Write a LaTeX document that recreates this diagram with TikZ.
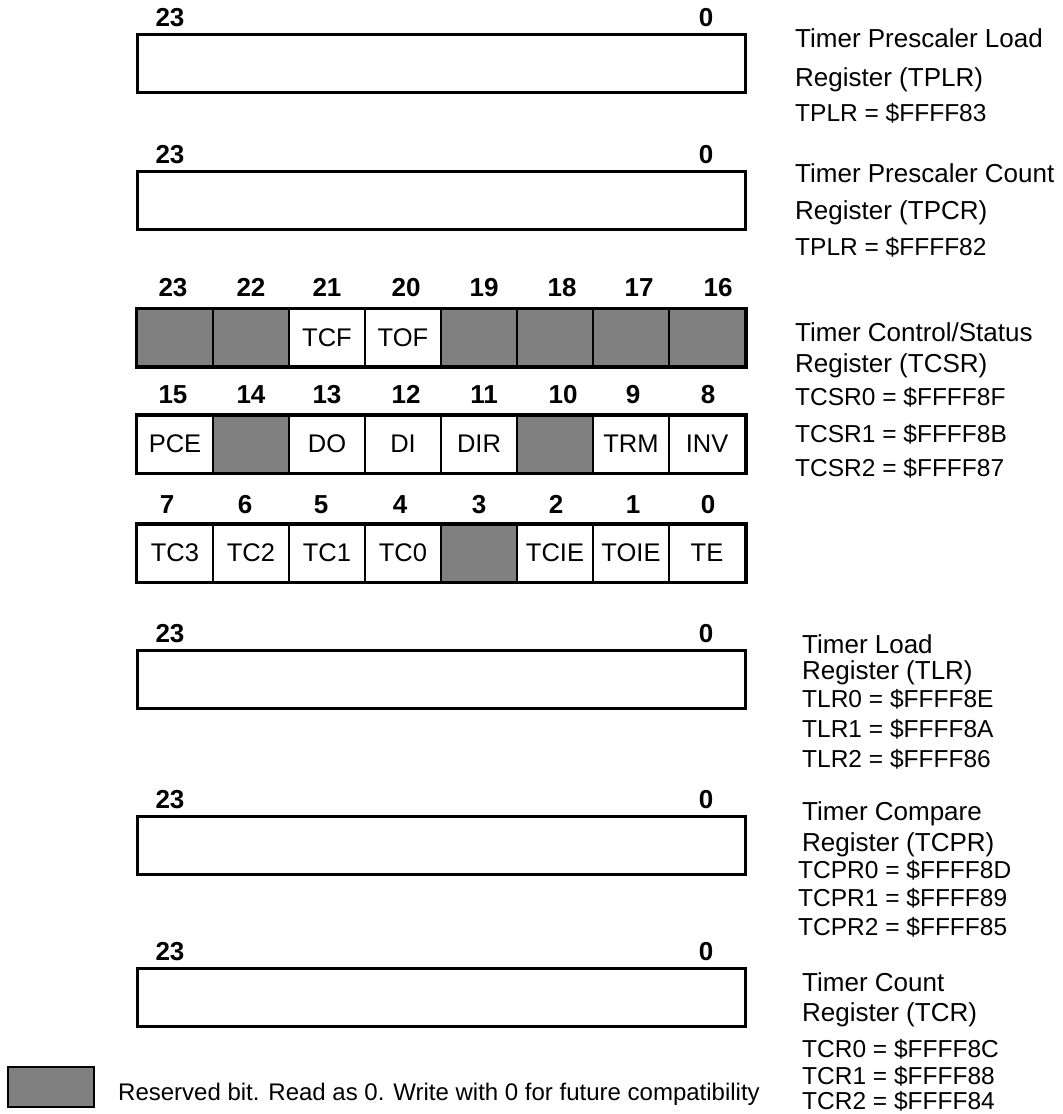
\documentclass[tikz,border=0pt]{standalone}
\usepackage{fontspec}
\setmainfont{Liberation Sans}
\definecolor{resv}{HTML}{808080}
\newcommand\fttl{\fontsize{26}{30}\selectfont}
\newcommand\ftadr{\fontsize{24.5}{28}\selectfont}
\newcommand\ftcell{\fontsize{25.5}{28}\selectfont}
\newcommand\ftbit{\fontsize{26}{30}\selectfont\bfseries}
\begin{document}
\begin{tikzpicture}[x=1pt,y=-1pt,
  bitnum/.style={font=\ftbit, anchor=base, inner sep=0pt},
  cell/.style={draw, line width=2pt, minimum width=76pt, minimum height=57pt, inner sep=0pt, font=\ftcell, fill=white},
  resv/.style={fill=resv},
  plain/.style={},
  regbox/.style={draw, line width=3pt, minimum width=608pt, minimum height=58pt, inner sep=0pt},
  outer/.style={draw, line width=3pt},
  ttl/.style={font=\fttl, anchor=base west, inner sep=0pt},
  adr/.style={font=\ftadr, anchor=base west, inner sep=0pt},
  legtxt/.style={font=\fontsize{24}{28}\selectfont, anchor=base west, inner sep=0pt}
]
\useasboundingbox (0,0) rectangle (1063,1114);

% single-field registers
\foreach \nm/\cy in {tplr/63, tpcr/200, tlr/679, tcpr/845, tcr/997}{
  \node[regbox] (\nm) at (441,\cy) {};
  \node[bitnum] (\nm-hi) at (170,{\cy-29-17+9.4}) {23};
  \node[bitnum] (\nm-lo) at (706,{\cy-29-17+9.4}) {0};
}

% TCSR rows
\foreach \k/\b/\t/\s/\lx in {0/23//resv/173, 1/22//resv/251, 2/21/TCF/plain/327, 3/20/TOF/plain/406, 4/19//resv/484, 5/18//resv/562, 6/17//resv/639, 7/16//resv/718}{
  \node[cell,\s] (c\b) at ({137+76*(\k+0.5)},337.5) {\t};
  \node[bitnum] (n\b) at (\lx,{309-22+9.4}) {\b};
}
\foreach \k/\b/\t/\s/\lx in {0/15/PCE/plain/173, 1/14//resv/251, 2/13/DO/plain/327, 3/12/DI/plain/406, 4/11/DIR/plain/484, 5/10//resv/563, 6/9/TRM/plain/633, 7/8/INV/plain/708}{
  \node[cell,\s] (c\b) at ({137+76*(\k+0.5)},444) {\t};
  \node[bitnum] (n\b) at (\lx,{415-21+9.4}) {\b};
}
\foreach \k/\b/\t/\s/\lx in {0/7/TC3/plain/167, 1/6/TC2/plain/245, 2/5/TC1/plain/321, 3/4/TC0/plain/400, 4/3//resv/479, 5/2/TCIE/plain/556, 6/1/TOIE/plain/633, 7/0/TE/plain/708}{
  \node[cell,\s] (c\b) at ({137+76*(\k+0.5)},553) {\t};
  \node[bitnum] (n\b) at (\lx,{525-21+9.4}) {\b};
}
\draw[outer] (c23.north west) rectangle (c16.south east);
\draw[outer] (c15.north west) rectangle (c8.south east);
\draw[outer] (c7.north west) rectangle (c0.south east);

% right-hand descriptions
\node[ttl] (d1a) at (795,{38+9.3}) {Timer Prescaler Load};
\node[ttl] (d1b) at (795,{77+9.3}) {Register (TPLR)};
\node[adr] (d1c) at (795,{113+8.8}) {TPLR = \$FFFF83};

\node[ttl] (d2a) at (795,{173+9.3}) {Timer Prescaler Count};
\node[ttl] (d2b) at (795,{210+9.3}) {Register (TPCR)};
\node[adr] (d2c) at (795,{247+8.8}) {TPLR = \$FFFF82};

\node[ttl] (d3a) at (795,{332+9.3}) {Timer Control/Status};
\node[ttl] (d3b) at (795,{363+9.3}) {Register (TCSR)};
\node[adr] (d3c) at (795,{397+8.8}) {TCSR0 = \$FFFF8F};
\node[adr] (d3d) at (795,{434+8.8}) {TCSR1 = \$FFFF8B};
\node[adr] (d3e) at (795,{468+8.8}) {TCSR2 = \$FFFF87};

\node[ttl] (d4a) at (802,{644+9.3}) {Timer Load};
\node[ttl] (d4b) at (802,{670+9.3}) {Register (TLR)};
\node[adr] (d4c) at (802,{699+8.8}) {TLR0 = \$FFFF8E};
\node[adr] (d4d) at (802,{729+8.8}) {TLR1 = \$FFFF8A};
\node[adr] (d4e) at (802,{759+8.8}) {TLR2 = \$FFFF86};

\node[ttl] (d5a) at (802,{811+9.3}) {Timer Compare};
\node[ttl] (d5b) at (802,{842+9.3}) {Register (TCPR)};
\node[adr] (d5c) at (798,{870+8.8}) {TCPR0 = \$FFFF8D};
\node[adr] (d5d) at (798,{898+8.8}) {TCPR1 = \$FFFF89};
\node[adr] (d5e) at (798,{927+8.8}) {TCPR2 = \$FFFF85};

\node[ttl] (d6a) at (802,{982+9.3}) {Timer Count};
\node[ttl] (d6b) at (802,{1012+9.3}) {Register (TCR)};
\node[adr] (d6c) at (802,{1049+8.8}) {TCR0 = \$FFFF8C};
\node[adr] (d6d) at (802,{1076+8.8}) {TCR1 = \$FFFF88};
\node[adr] (d6e) at (802,{1101+8.8}) {TCR2 = \$FFFF84};

% legend
\node[draw, line width=2pt, fill=resv, minimum width=86pt, minimum height=40pt, inner sep=0pt] (legbox) at (51,1087) {};
\node[legtxt] (legtext) at (118,{1092+8.6}) {Reserved bit. Read as 0. Write with 0 for future compatibility};
\end{tikzpicture}
\end{document}
